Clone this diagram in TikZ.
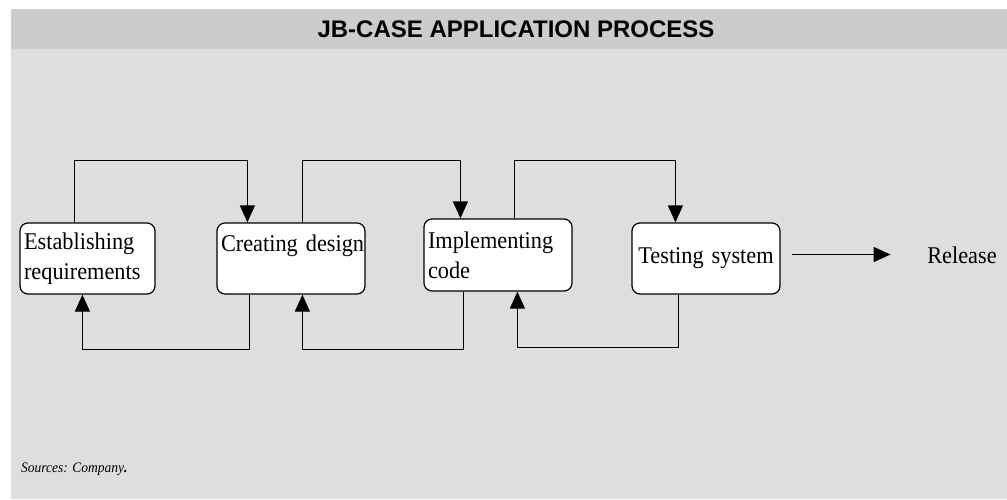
\documentclass[tikz,border=0pt]{standalone}
\usepackage{fontspec}
\setmainfont{Liberation Serif}[FakeStretch=0.93]
\newfontfamily\headfont{Liberation Sans}
\usetikzlibrary{arrows.meta}
\definecolor{hgray}{RGB}{204,204,204}
\definecolor{bgray}{RGB}{222,222,222}
\newcommand\boxfont{\fontsize{24}{30}\selectfont\fontdimen2\font=4.5pt}

\begin{document}
\begin{tikzpicture}[x=1pt, y=-1pt, >={Triangle[length=17pt,width=15pt]},
   stage/.style={
         % The shape:
         rectangle, rounded corners=8pt,
         % The size:
         minimum height=71pt,
         inner xsep=4pt, inner ysep=5pt,
         % The border
         line width=1.2pt, draw=black,
         % The filling
         fill=white,
         % Font
         font=\boxfont, align=left},
   flow/.style={line width=1.2pt, ->}]
   \useasboundingbox (0,0) rectangle (1007,499);
   % background and header band
   \fill [bgray] (11,49) rectangle (1007,499);
   \fill [hgray] (11,9) rectangle (1007,49);
   \node [font=\headfont\bfseries\fontsize{24}{28}\selectfont] (title) at (516,29) {JB-CASE APPLICATION PROCESS};
   % the four stages
   \node [stage, text width=127pt] (est) at (87.5,258.5) {Establishing\\requirements};
   \node [stage, text width=140pt] (des) at (291,258.5) {\mbox{Creating design}\\\mbox{}};
   \node [stage, text width=140pt, minimum height=72pt] (imp) at (498,255) {Implementing\\code};
   \node [stage, text width=140pt, align=center] (tst) at (706,258.5) {\mbox{Testing system}};
   \node [font=\boxfont, inner sep=0pt] (rel) at (962,255) {Release};
   % forward loops over the top
   \foreach \a/\da/\b/\db/\h in {est/55/des/31/62, des/86/imp/37/62, imp/91/tst/44/58}{
      \draw [flow] ([xshift=\da pt]\a.north west) -- ++(0,-\h) -| ([xshift=\db pt]\b.north west);
   };
   % backward loops underneath
   \foreach \a/\da/\b/\db/\h in {des/33/est/63/55, imp/40/des/86/58, tst/47/imp/94/53}{
      \draw [flow] ([xshift=\da pt]\a.south west) -- ++(0,\h) -| ([xshift=\db pt]\b.south west);
   };
   \draw [flow] ([xshift=11pt,yshift=4pt]tst.east) -- ++(99,0);
   %% \draw node at (21,469) {Sources};
   \node [anchor=west, inner sep=0pt, font=\itshape\fontsize{14.5}{17}\selectfont] (src) at (21,469) {Sources: Company\textbf{.}};
\end{tikzpicture}
\end{document}
